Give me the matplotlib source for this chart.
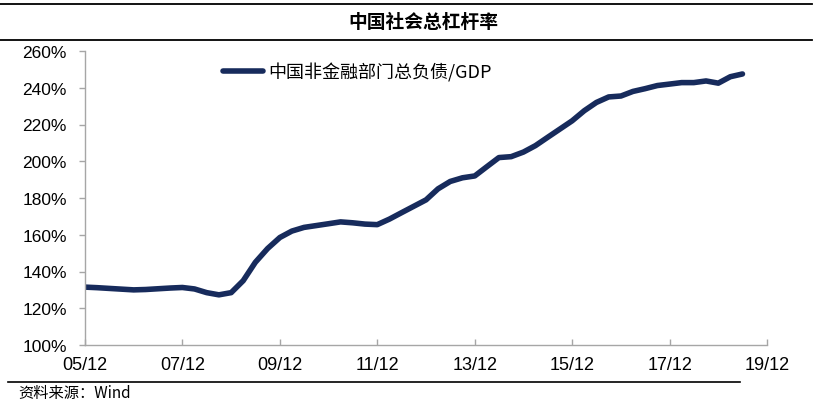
import matplotlib
matplotlib.use("Agg")
import matplotlib.pyplot as plt
import matplotlib.lines as mlines
import numpy as np
import pandas as pd

# ---- data ----
dates = pd.date_range("2005-12-31", "2019-06-30", freq="QE")
values = [131.5, 131.2, 130.8, 130.4, 130.0, 130.2, 130.6, 131.0, 131.3,
          130.5, 128.5, 127.3, 128.5, 135.0, 145.0, 152.5, 158.5,
          162.0, 164.0, 165.0, 166.0, 167.0, 166.5, 165.8, 165.5,
          168.5, 172.0, 175.5, 179.0, 185.0, 189.0, 191.0, 192.0,
          197.0, 202.0, 202.5, 205.0, 208.5, 213.0, 217.5, 222.0,
          227.5, 232.0, 235.0, 235.5, 238.0, 239.5, 241.2, 242.0,
          242.8, 242.8, 243.7, 242.5, 246.0, 247.5]
series_name = "中国非金融部门总负债/GDP"
title = "中国社会总杠杆率"
source = "资料来源：Wind"
yticks = [100, 120, 140, 160, 180, 200, 220, 240, 260]
xtick_years = [2005, 2007, 2009, 2011, 2013, 2015, 2017, 2019]
xtick_labels = ["05/12", "07/12", "09/12", "11/12", "13/12", "15/12", "17/12", "19/12"]

plt.rcParams['font.family'] = ['Liberation Sans', 'DejaVu Sans']
CJK = ['Noto Sans CJK SC', 'DejaVu Sans']
W, H = 817, 402
fig = plt.figure(figsize=(W / 100, H / 100), dpi=100)
fig.patch.set_facecolor("white")

ax = fig.add_axes([85 / W, 1 - 346 / H, (767 - 85) / W, (346 - 52) / H])
line_color = "#172B5C"
ax.plot(dates, values, color=line_color, lw=4.0, solid_joinstyle="round",
        solid_capstyle="round", label=series_name)

ax.set_ylim(100, 260)
ax.set_yticks(yticks)
ax.set_yticklabels([f"{v}%" for v in yticks])
xt = [pd.Timestamp(f"{y}-12-31") for y in xtick_years]
ax.set_xlim(xt[0], xt[-1])
ax.set_xticks(xt)
ax.set_xticklabels(xtick_labels)

for s in ["top", "right"]:
    ax.spines[s].set_visible(False)
for s in ["left", "bottom"]:
    ax.spines[s].set_color("#A6A6A6")
    ax.spines[s].set_linewidth(1.0)
ax.tick_params(axis="y", direction="out", length=4, width=1, color="#A6A6A6",
               pad=9, labelsize=12.5, labelcolor="black")
ax.tick_params(axis="x", direction="in", length=4, width=1, color="#A6A6A6",
               pad=8, labelsize=13, labelcolor="black")

leg = ax.legend(loc="center left", bbox_to_anchor=(223 / W, 1 - 73 / H),
                bbox_transform=fig.transFigure, frameon=False,
                prop={'family': CJK, 'size': 13}, handlelength=2.2,
                handletextpad=0.3, borderpad=0, borderaxespad=0)

# decorative rules and texts
fig.add_artist(mlines.Line2D([0, 812 / W], [1 - 5 / H, 1 - 5 / H],
                             transform=fig.transFigure, color="black", lw=1.3))
fig.add_artist(mlines.Line2D([0, 812 / W], [1 - 41 / H, 1 - 41 / H],
                             transform=fig.transFigure, color="black", lw=1.3))
fig.add_artist(mlines.Line2D([8 / W, 740 / W], [1 - 383 / H, 1 - 383 / H],
                             transform=fig.transFigure, color="black", lw=1.2))
fig.text(423 / W, 1 - 22 / H, title, ha="center", va="center",
         family=CJK, fontsize=13.5, fontweight="bold")
fig.text(18 / W, 1 - 394 / H, source, ha="left", va="center",
         family=CJK, fontsize=11)

fig.savefig("out.png", dpi=100, facecolor="white")
